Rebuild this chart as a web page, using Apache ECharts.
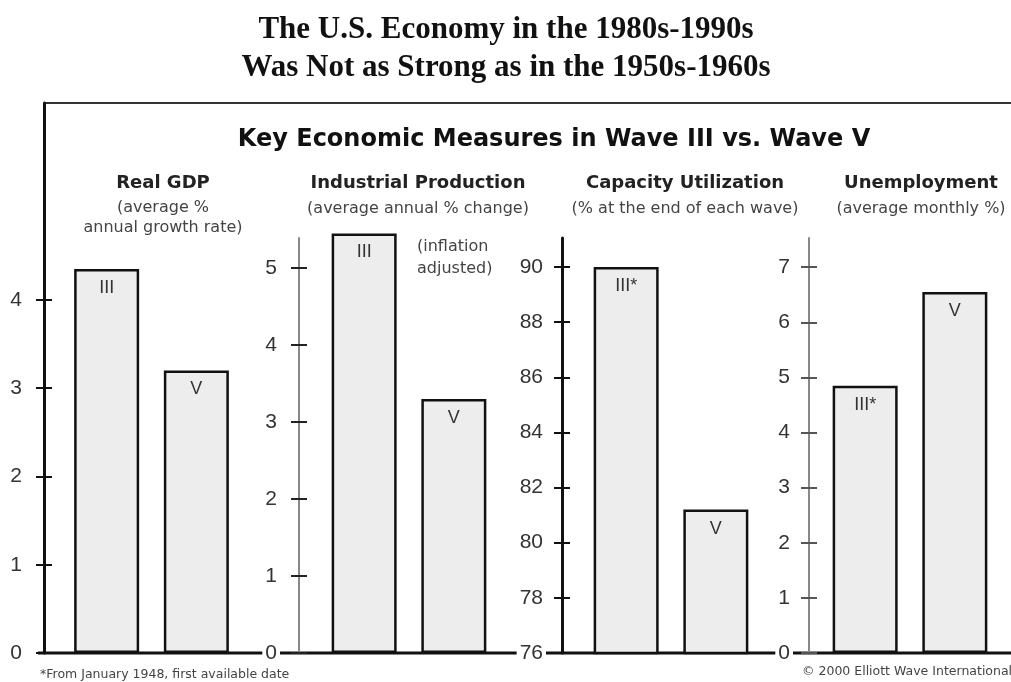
<!DOCTYPE html>
<html>
<head>
<meta charset="utf-8">
<script src="https://cdn.jsdelivr.net/npm/echarts@6/dist/echarts.min.js"></script>
<style>
  html, body { margin: 0; padding: 0; background: #fff; }
  #chart { width: 1011px; height: 682px; }
</style>
</head>
<body>
<div id="chart"></div>
<script>
// Key economic measures, wave III (1950s-60s) vs wave V (1980s-90s)
const measures = ['Real GDP', 'Industrial Production', 'Capacity Utilization', 'Unemployment'];
const measureNotes = [
  '(average %\nannual growth rate)',
  '(average annual % change)',
  '(% at the end of each wave)',
  '(average monthly %)'
];
const waveIII = [4.35, 5.45, 90.0, 4.85];
const waveV = [3.2, 3.3, 81.2, 6.55];
const labelIII = ['III', 'III', 'III*', 'III*'];
const labelV = ['V', 'V', 'V', 'V'];

const gdpTicks = [0, 1, 2, 3, 4];
const ipTicks = [0, 1, 2, 3, 4, 5];
const cuTicks = [76, 78, 80, 82, 84, 86, 88, 90];
const unTicks = [0, 1, 2, 3, 4, 5, 6, 7];

// layout of the four panels (axis x, grid width, grid top, axis range, styles)
const panels = [
  { left: 44, width: 215, top: 103, min: 0, max: 6.23, ticks: gdpTicks, line: '#111', lineW: 3, tick: '#111', margin: 19, titleX: 163 },
  { left: 299, width: 220, top: 238, min: 0, max: 5.39, ticks: ipTicks, line: '#888', lineW: 2, tick: '#222', margin: 19, titleX: 418 },
  { left: 562, width: 218, top: 238, min: 76, max: 91.05, ticks: cuTicks, line: '#111', lineW: 3, tick: '#111', margin: 16, titleX: 685 },
  { left: 809, width: 223, top: 238, min: 0, max: 7.53, ticks: unTicks, line: '#888', lineW: 2, tick: '#555', margin: 16, titleX: 921 }
];

const chart = echarts.init(document.getElementById('chart'));

const grid = [], xAxis = [], yAxis = [], series = [];
panels.forEach((p, i) => {
  grid.push({ left: p.left, width: p.width, top: p.top, bottom: 29 });
  xAxis.push({ type: 'category', gridIndex: i, data: [measures[i]], show: false });
  // main axis: line, labels, outer half of ticks
  yAxis.push({
    type: 'value', gridIndex: i, position: 'left', min: p.min, max: p.max, z: 5,
    splitLine: { show: false },
    axisLine: { show: true, lineStyle: { color: p.line, width: p.lineW } },
    axisTick: { show: true, customValues: p.ticks, length: 8, lineStyle: { color: p.tick, width: 2 } },
    axisLabel: {
      customValues: p.ticks, margin: p.margin, color: '#333', fontSize: 21,
      fontFamily: 'Liberation Sans', backgroundColor: '#fff', padding: [0, 3]
    }
  });
  // twin axis: inner half of the ticks so they cross the line
  yAxis.push({
    type: 'value', gridIndex: i, position: 'left', min: p.min, max: p.max, z: 5,
    splitLine: { show: false },
    axisLine: { show: false },
    axisTick: { show: true, inside: true, customValues: p.ticks, length: 8, lineStyle: { color: p.tick, width: 2 } },
    axisLabel: { show: false }
  });
  [[waveIII, labelIII], [waveV, labelV]].forEach(([vals, labs]) => {
    series.push({
      type: 'bar', xAxisIndex: i, yAxisIndex: i * 2,
      data: [vals[i]], barWidth: 65, barGap: '38%', clip: i !== 1,
      itemStyle: { color: '#ededed', borderColor: '#111', borderWidth: 2.5 },
      label: {
        show: true, position: 'insideTop', distance: 10,
        formatter: () => labs[i], color: '#333', fontSize: 18, fontFamily: 'Liberation Sans'
      },
      emphasis: { disabled: true }
    });
  });
});

const texts = [
  { text: 'The U.S. Economy in the 1980s-1990s', x: 506, y: 30, font: 'bold 31px "Liberation Serif"', fill: '#111' },
  { text: 'Was Not as Strong as in the 1950s-1960s', x: 506, y: 68, font: 'bold 31px "Liberation Serif"', fill: '#111' },
  { text: 'Key Economic Measures in Wave III vs. Wave V', x: 554, y: 140, font: 'bold 24px "DejaVu Sans"', fill: '#111' }
];
panels.forEach((p, i) => {
  texts.push({ text: measures[i], x: p.titleX, y: 183, font: 'bold 18px "DejaVu Sans"', fill: '#222' });
  texts.push({ text: measureNotes[i], x: p.titleX, y: i === 0 ? 218 : 209, font: '16px "DejaVu Sans"', fill: '#444', lineHeight: 20 });
});

const graphic = texts.map(t => ({
  type: 'text', x: t.x, y: t.y, z: 10, silent: true,
  style: { text: t.text, font: t.font, fill: t.fill, align: 'center', verticalAlign: 'middle', lineHeight: t.lineHeight }
}));
graphic.push(
  { type: 'text', x: 417, y: 258, z: 10, silent: true,
    style: { text: '(inflation\nadjusted)', font: '16px "DejaVu Sans"', fill: '#444', align: 'left', verticalAlign: 'middle', lineHeight: 22 } },
  { type: 'text', x: 40, y: 675, z: 10, silent: true,
    style: { text: '*From January 1948, first available date', font: '12.5px "DejaVu Sans"', fill: '#444', align: 'left', verticalAlign: 'middle' } },
  { type: 'text', x: 802, y: 672, z: 10, silent: true,
    style: { text: '\u00a9 2000 Elliott Wave International', font: '12.5px "DejaVu Sans"', fill: '#444', align: 'left', verticalAlign: 'middle' } },
  // frame top edge and common baseline
  { type: 'line', z: 1, silent: true, shape: { x1: 44, y1: 103, x2: 1011, y2: 103 }, style: { stroke: '#333', lineWidth: 2 } },
  { type: 'line', z: 1, silent: true, shape: { x1: 38, y1: 653, x2: 1011, y2: 653 }, style: { stroke: '#111', lineWidth: 3 } }
);

chart.setOption({
  animation: false,
  grid, xAxis, yAxis, series, graphic
});
</script>
</body>
</html>
